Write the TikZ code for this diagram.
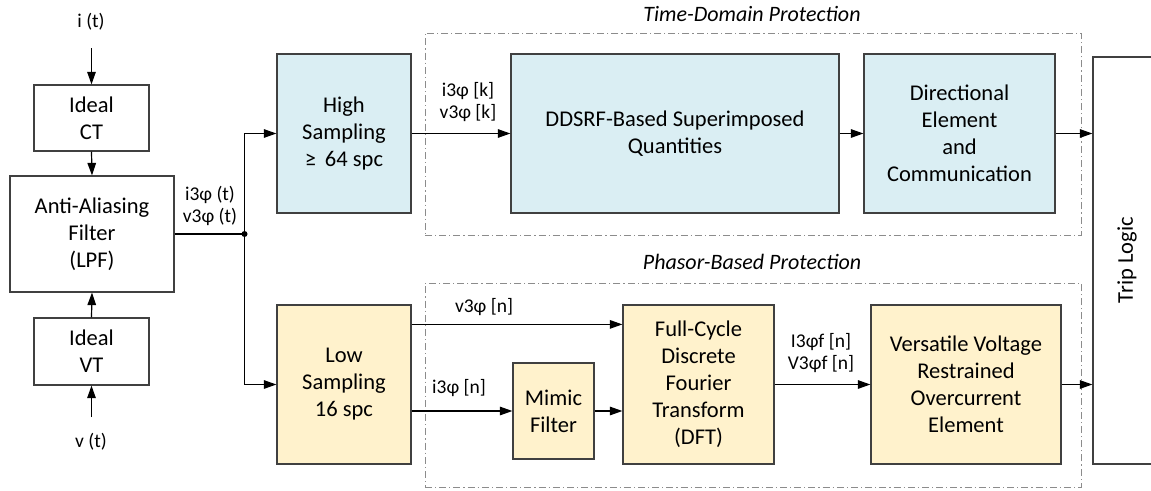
\documentclass[tikz,border=0pt]{standalone}
\usepackage{fontspec}
\setmainfont{Carlito}
\usetikzlibrary{arrows.meta,calc}
\definecolor{bluefill}{HTML}{DAEEF3}
\definecolor{yelfill}{HTML}{FFF2CC}
\definecolor{edge}{HTML}{404040}
\definecolor{grp}{HTML}{8C8C8C}
\begin{document}
\begin{tikzpicture}[x=1pt,y=-1pt,
  box/.style={draw=edge,line width=1.2pt,align=center,inner sep=2pt,
    font=\fontsize{22.5}{27}\selectfont},
  bbox/.style={box,fill=bluefill},
  ybox/.style={box,fill=yelfill},
  wbox/.style={box,fill=white},
  grpbox/.style={draw=grp,line width=1pt,dash pattern=on 7pt off 3pt on 1.2pt off 3pt},
  lbl/.style={align=center,inner sep=0pt,font=\fontsize{19.5}{22.5}\selectfont},
  ttl/.style={inner sep=0pt,font=\fontsize{22}{26}\selectfont\itshape},
  arr/.style={-{Triangle[length=12.5pt,width=8.5pt]},line width=1.2pt,draw=black},
  ln/.style={line width=1.2pt,draw=black}]
\useasboundingbox (0,0) rectangle (1151,490);

% group frames
\node[grpbox,minimum width=656pt,minimum height=202pt,inner sep=0pt] (tdp) at (753,134) {};
\node[grpbox,minimum width=656pt,minimum height=204pt,inner sep=0pt] (pbp) at (753,385) {};
\node[ttl] (tdpt) at (752,14) {Time-Domain Protection};
\node[ttl] (pbpt) at (752,262) {Phasor-Based Protection};

% left column
\node[lbl] (it) at (91,22) {i (t)};
\node[lbl] (vt) at (91,442) {v (t)};
\coordinate (itend) at (91.5,48);
\coordinate (vtend) at (91.5,417);
\node[wbox,minimum width=115pt,minimum height=66pt] (ct) at (91.5,118) {Ideal\\CT};
\node[wbox,minimum width=164pt,minimum height=116pt] (aaf) at (92,234) {Anti-Aliasing\\Filter\\(LPF)};
\node[wbox,minimum width=115pt,minimum height=67pt] (vtb) at (91.5,351.5) {Ideal\\VT};

% sampling
\node[bbox,minimum width=134pt,minimum height=159pt] (hs) at (344,133.5) {High\\Sampling\\≥\, 64 spc};
\node[ybox,minimum width=134pt,minimum height=159pt] (ls) at (344,384.5) {Low\\Sampling\\16 spc};

% time-domain
\node[bbox,minimum width=328pt,minimum height=159pt] (dd) at (675,133.5) {DDSRF-Based Superimposed\\Quantities};
\node[bbox,minimum width=191pt,minimum height=159pt] (dir) at (959.5,133.5) {Directional\\Element\\and\\Communication};

% phasor-based
\node[ybox,minimum width=81pt,minimum height=96pt] (mim) at (553.5,411) {Mimic\\Filter};
\node[ybox,minimum width=151pt,minimum height=159pt] (fc) at (698.5,384.5) {Full-Cycle\\Discrete\\Fourier\\Transform\\(DFT)};
\node[ybox,minimum width=190pt,minimum height=159pt] (ver) at (966,384.5) {Versatile Voltage\\Restrained\\Overcurrent\\Element};

% trip logic
\node[wbox,minimum width=80pt,minimum height=407pt] (trip) at (1133,260.5) {};
\node[box,draw=none,fill=none,rotate=90] (tripl) at (1127,260) {Trip Logic};

% junction
\coordinate (j) at (244.5,234);
\fill (j) circle (3pt);

% connectors
\draw[arr] (itend) -- (ct.north);
\draw[arr] (ct.south) -- (aaf.north);
\draw[arr] (vtend) -- (vtb.south);
\draw[arr] (vtb.north) -- (aaf.south);
\draw[ln] (aaf.east |- j) -- (j);
\draw[arr] (j) |- (hs.west);
\draw[arr] (j) |- (ls.west);
\draw[arr] (hs.east) -- (dd.west);
\draw[arr] (dd.east) -- (dir.west);
\draw[arr] (dir.east) -- (dir.east -| trip.west);
\draw[arr] ([yshift=-20pt]ls.north east) -- ([yshift=-20pt]fc.north west);
\draw[arr] (ls.east |- mim.west) -- (mim.west);
\draw[arr] (mim.east) -- (mim.east -| fc.west);
\draw[arr] (fc.east) -- (ver.west);
\draw[arr] (ver.east) -- (ver.east -| trip.west);

% labels
\node[lbl] (l1) at (210,206) {i3φ (t)\\v3φ (t)};
\node[lbl] (l2) at (468,102) {i3φ [k]\\v3φ [k]};
\node[lbl] (l3) at (484,307) {v3φ [n]};
\node[lbl] (l4) at (459,388) {i3φ [n]};
\node[lbl] (l5) at (821,353) {I3φf [n]\\V3φf [n]};
\end{tikzpicture}
\end{document}
